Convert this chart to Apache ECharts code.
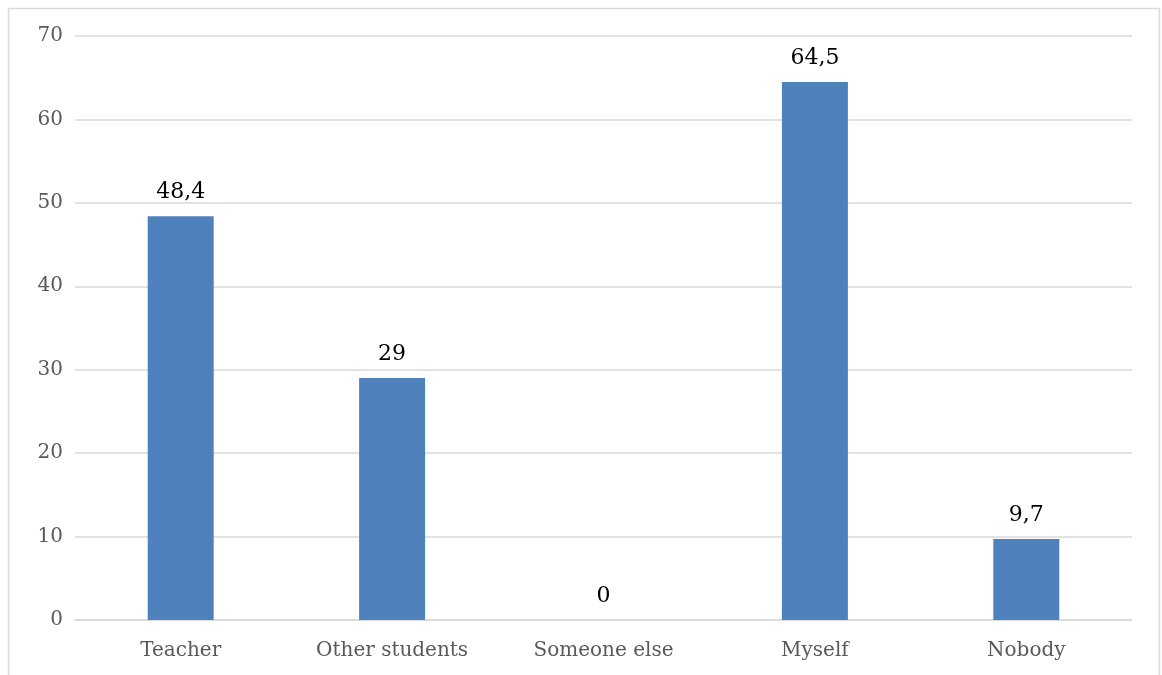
<!DOCTYPE html>
<html>
<head>
<meta charset="utf-8">
<script src="https://cdn.jsdelivr.net/npm/echarts@6/dist/echarts.min.js"></script>
<style>
html,body{margin:0;padding:0;background:#fff;}
#chart{width:1162px;height:675px;}
</style>
</head>
<body>
<div id="chart"></div>
<script>
const categories = ['Teacher', 'Other students', 'Someone else', 'Myself', 'Nobody'];
const values = [48.4, 29, 0, 64.5, 9.7];
const yTicks = [0, 10, 20, 30, 40, 50, 60, 70];

const chart = echarts.init(document.getElementById('chart'));
const font = 'DejaVu Serif';
chart.setOption({
  animation: false,
  backgroundColor: '#fff',
  graphic: [{
    type: 'rect',
    shape: {x: 8.5, y: 8.5, width: 1151, height: 700},
    style: {fill: 'none', stroke: '#d9d9d9', lineWidth: 1.5},
    silent: true
  }],
  grid: {left: 75, right: 30, top: 36, bottom: 55, containLabel: false},
  xAxis: {
    type: 'category',
    data: categories,
    axisLine: {lineStyle: {color: '#d9d9d9', width: 1.5}},
    axisTick: {show: false},
    axisLabel: {color: '#595959', fontFamily: font, fontSize: 20, margin: 21}
  },
  yAxis: {
    type: 'value',
    min: yTicks[0],
    max: yTicks[yTicks.length - 1],
    interval: 10,
    axisLine: {show: false},
    axisTick: {show: false},
    splitLine: {lineStyle: {color: '#d9d9d9', width: 1.5}},
    axisLabel: {color: '#595959', fontFamily: font, fontSize: 20, margin: 12, padding: [4, 0, 0, 0]}
  },
  series: [{
    type: 'bar',
    data: values,
    barWidth: 66,
    itemStyle: {color: '#4f81bd'},
    label: {
      show: true,
      position: 'top',
      distance: 13,
      color: '#000',
      fontFamily: font,
      fontSize: 22,
      formatter: p => String(p.value).replace('.', ',')
    }
  }]
});
</script>
</body>
</html>
